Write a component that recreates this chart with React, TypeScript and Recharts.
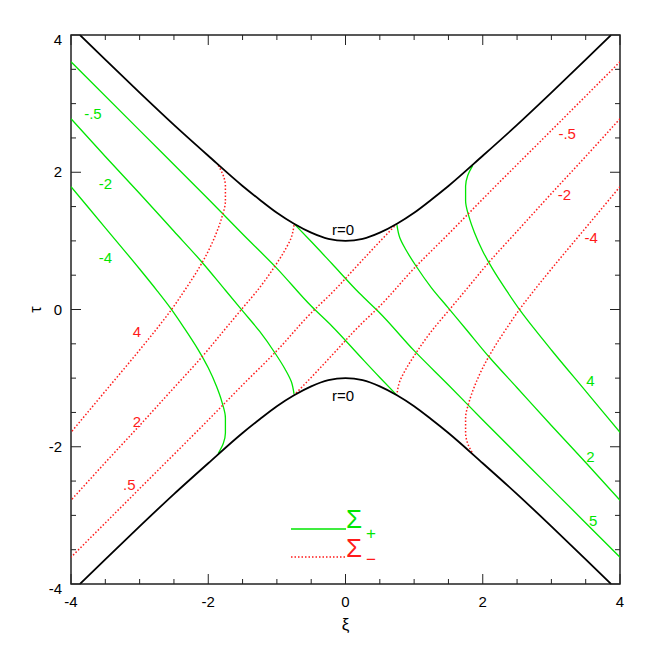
import React from "react";
import {
  LineChart,
  Line,
  XAxis,
  YAxis,
  ReferenceArea,
  ReferenceDot,
  Legend,
} from "recharts";

type Pt = [number, number];

// r = 0 boundaries (xi, tau)
const r0Upper: Pt[] = [
  [-3.87, 4.0], [-3.5, 3.64], [-3, 3.16], [-2.5, 2.69], [-2, 2.24], [-1.5, 1.8],
  [-1.25, 1.6], [-1, 1.41], [-0.75, 1.25], [-0.5, 1.12], [-0.25, 1.03], [0, 1.0],
  [0.25, 1.03], [0.5, 1.12], [0.75, 1.25], [1, 1.41], [1.25, 1.6], [1.5, 1.8],
  [2, 2.24], [2.5, 2.69], [3, 3.16], [3.5, 3.64], [3.87, 4.0],
];
const r0Lower: Pt[] = [
  [-3.87, -4.0], [-3.5, -3.64], [-3, -3.16], [-2.5, -2.69], [-2, -2.24], [-1.5, -1.8],
  [-1.25, -1.6], [-1, -1.41], [-0.75, -1.25], [-0.5, -1.12], [-0.25, -1.03], [0, -1.0],
  [0.25, -1.03], [0.5, -1.12], [0.75, -1.25], [1, -1.41], [1.25, -1.6], [1.5, -1.8],
  [2, -2.24], [2.5, -2.69], [3, -3.16], [3.5, -3.64], [3.87, -4.0],
];

// Sigma+ (green)
const plusM05: Pt[] = [
  [-4, 3.61], [-3, 2.61], [-2, 1.61], [-1.5, 1.1], [-1, 0.6], [-0.5, 0.05],
  [-0.2, -0.24], [0.2, -0.67], [0.5, -0.99], [0.75, -1.25],
];
const plusM2: Pt[] = [
  [-4, 2.78], [-3.5, 2.23], [-3, 1.69], [-2.5, 1.14], [-2.1, 0.7], [-1.75, 0.28],
  [-1.5, -0.02], [-1.25, -0.32], [-1.03, -0.63], [-0.88, -0.87], [-0.79, -1.05], [-0.75, -1.23],
];
const plusM4: Pt[] = [
  [-4, 1.79], [-3.5, 1.19], [-3, 0.59], [-2.75, 0.28], [-2.55, 0.02], [-2.35, -0.27],
  [-2.15, -0.58], [-2.0, -0.85], [-1.88, -1.12], [-1.8, -1.35], [-1.75, -1.58],
  [-1.75, -1.8], [-1.78, -1.95], [-1.855, -2.1],
];
const plusP05: Pt[] = [
  [-0.75, 1.25], [-0.5, 0.99], [-0.2, 0.67], [0.2, 0.24], [0.5, -0.05], [1, -0.6],
  [1.5, -1.1], [2, -1.61], [3, -2.61], [4, -3.61],
];
const plusP2: Pt[] = [
  [0.75, 1.23], [0.79, 1.05], [0.88, 0.87], [1.03, 0.63], [1.25, 0.32], [1.5, 0.02],
  [1.75, -0.28], [2.1, -0.7], [2.5, -1.14], [3, -1.69], [3.5, -2.23], [4, -2.78],
];
const plusP4: Pt[] = [
  [1.855, 2.1], [1.78, 1.95], [1.75, 1.8], [1.75, 1.58], [1.8, 1.35], [1.88, 1.12],
  [2.0, 0.85], [2.15, 0.58], [2.35, 0.27], [2.55, -0.02], [2.75, -0.28], [3, -0.59],
  [3.5, -1.19], [4, -1.79],
];

// Sigma- (red, dotted)
const minusM05: Pt[] = [
  [4, 3.61], [3, 2.61], [2, 1.61], [1.5, 1.1], [1, 0.6], [0.5, 0.05],
  [0.2, -0.24], [-0.2, -0.67], [-0.5, -0.99], [-0.75, -1.25],
];
const minusM2: Pt[] = [
  [4, 2.78], [3.5, 2.23], [3, 1.69], [2.5, 1.14], [2.1, 0.7], [1.75, 0.28],
  [1.5, -0.02], [1.25, -0.32], [1.03, -0.63], [0.88, -0.87], [0.79, -1.05], [0.75, -1.23],
];
const minusM4: Pt[] = [
  [4, 1.79], [3.5, 1.19], [3, 0.59], [2.75, 0.28], [2.55, 0.02], [2.35, -0.27],
  [2.15, -0.58], [2.0, -0.85], [1.88, -1.12], [1.8, -1.35], [1.75, -1.58],
  [1.75, -1.8], [1.78, -1.95], [1.855, -2.1],
];
const minusP05: Pt[] = [
  [0.75, 1.25], [0.5, 0.99], [0.2, 0.67], [-0.2, 0.24], [-0.5, -0.05], [-1, -0.6],
  [-1.5, -1.1], [-2, -1.61], [-3, -2.61], [-4, -3.61],
];
const minusP2: Pt[] = [
  [-0.75, 1.23], [-0.79, 1.05], [-0.88, 0.87], [-1.03, 0.63], [-1.25, 0.32], [-1.5, 0.02],
  [-1.75, -0.28], [-2.1, -0.7], [-2.5, -1.14], [-3, -1.69], [-3.5, -2.23], [-4, -2.78],
];
const minusP4: Pt[] = [
  [-1.855, 2.1], [-1.78, 1.95], [-1.75, 1.8], [-1.75, 1.58], [-1.8, 1.35], [-1.88, 1.12],
  [-2.0, 0.85], [-2.15, 0.58], [-2.35, 0.27], [-2.55, -0.02], [-2.75, -0.28], [-3, -0.59],
  [-3.5, -1.19], [-4, -1.79],
];

// curve labels (xi, tau, text)
const greenLabels: [number, number, string][] = [
  [-3.68, 2.85, "-.5"], [-3.5, 1.84, "-2"], [-3.5, 0.76, "-4"],
  [3.57, -1.04, "4"], [3.57, -2.14, "2"], [3.61, -3.08, "5"],
];
const redLabels: [number, number, string][] = [
  [3.23, 2.56, "-.5"], [3.19, 1.68, "-2"], [3.58, 1.04, "-4"],
  [-3.04, -0.33, "4"], [-3.04, -1.64, "2"], [-3.15, -2.55, ".5"],
];
const boundaryLabels: [number, number, string][] = [
  [-0.035, 1.16, "r=0"], [-0.035, -1.25, "r=0"],
];

const axisTicks = [-4, -3.5, -3, -2.5, -2, -1.5, -1, -0.5, 0, 0.5, 1, 1.5, 2, 2.5, 3, 3.5, 4];
const labelTicks = [-4, -2, 0, 2, 4];

const GREEN = "#00e600";
const RED = "#ff1a1a";
const FRAME = "#222";
const PLOT = 549;

const rows = (pts: Pt[]) => pts.map(([xi, tau]) => ({ xi, tau }));

function XTick({ x, y, payload }: any) {
  const v = payload.value;
  const major = labelTicks.includes(v);
  const len = major ? 10 : 5;
  return (
    <g>
      <line x1={x} x2={x} y1={y} y2={y - len} stroke={FRAME} />
      <line x1={x} x2={x} y1={y - PLOT} y2={y - PLOT + len} stroke={FRAME} />
      {major && (
        <text x={x} y={y + 23} textAnchor="middle" fontSize={15} fill="#000">
          {v}
        </text>
      )}
    </g>
  );
}

function YTick({ x, y, payload }: any) {
  const v = payload.value;
  const major = labelTicks.includes(v);
  const len = major ? 10 : 5;
  return (
    <g>
      <line x1={x} x2={x + len} y1={y} y2={y} stroke={FRAME} />
      <line x1={x + PLOT} x2={x + PLOT - len} y1={y} y2={y} stroke={FRAME} />
      {major && (
        <text x={x - 9} y={y + (Math.abs(v) === 4 ? 10 : 5)} textAnchor="end" fontSize={15} fill="#000">
          {v}
        </text>
      )}
    </g>
  );
}

function LegendBox() {
  return (
    <svg width={110} height={72} style={{ fontFamily: "Liberation Sans, Arial, sans-serif" }}>
      <line x1={9} x2={64} y1={31} y2={31} stroke={GREEN} strokeWidth={1.3} />
      <text x={64} y={30} fontSize={26} fill={GREEN}>Σ</text>
      <text x={84} y={41} fontSize={17} fill={GREEN}>+</text>
      <line x1={9} x2={64} y1={59} y2={59} stroke={RED} strokeWidth={1.5} strokeDasharray="1.5 2" />
      <text x={64} y={59} fontSize={26} fill={RED}>Σ</text>
      <text x={84} y={67} fontSize={17} fill={RED}>−</text>
    </svg>
  );
}

export default function App() {
  const greens = [plusM05, plusM2, plusM4, plusP05, plusP2, plusP4];
  const reds = [minusM05, minusM2, minusM4, minusP05, minusP2, minusP4];
  return (
    <div style={{ width: 646, height: 640, fontFamily: "Liberation Sans, Arial, sans-serif" }}>
      <LineChart width={646} height={640} margin={{ top: 27, right: 34, left: 0, bottom: 14 }}>
        <XAxis
          dataKey="xi"
          type="number"
          domain={[-4, 4]}
          ticks={axisTicks}
          interval={0}
          allowDataOverflow
          tickLine={false}
          axisLine={false}
          tickSize={0}
          tickMargin={0}
          height={50}
          tick={<XTick />}
          label={({ viewBox }: any) => (
            <text x={viewBox.x + viewBox.width / 2} y={viewBox.y + 46} textAnchor="middle" fontSize={17} fill="#000">
              ξ
            </text>
          )}
        />
        <YAxis
          dataKey="tau"
          type="number"
          domain={[-4, 4]}
          ticks={axisTicks}
          interval={0}
          allowDataOverflow
          tickLine={false}
          axisLine={false}
          tickSize={0}
          tickMargin={0}
          width={63}
          tick={<YTick />}
          label={({ viewBox }: any) => {
            const cx = viewBox.x + 27;
            const cy = viewBox.y + viewBox.height / 2;
            return (
              <text x={cx} y={cy} textAnchor="middle" dominantBaseline="central" fontSize={16} fill="#000" transform={`rotate(-90 ${cx} ${cy})`}>
                τ
              </text>
            );
          }}
        />
        <ReferenceArea x1={-4} x2={4} y1={-4} y2={4} fill="none" fillOpacity={0} stroke={FRAME} strokeWidth={1.5} />
        {greens.map((c, i) => (
          <Line
            key={`g${i}`}
            data={rows(c)}
            dataKey="tau"
            type="monotoneY"
            stroke={GREEN}
            strokeWidth={1.3}
            dot={false}
            activeDot={false}
            isAnimationActive={false}
          />
        ))}
        {reds.map((c, i) => (
          <Line
            key={`r${i}`}
            data={rows(c)}
            dataKey="tau"
            type="monotoneY"
            stroke={RED}
            strokeWidth={1.5}
            strokeDasharray="1.5 2"
            dot={false}
            activeDot={false}
            isAnimationActive={false}
          />
        ))}
        <Line data={rows(r0Upper)} dataKey="tau" type="monotone" stroke="#000" strokeWidth={1.8} dot={false} activeDot={false} isAnimationActive={false} />
        <Line data={rows(r0Lower)} dataKey="tau" type="monotone" stroke="#000" strokeWidth={1.8} dot={false} activeDot={false} isAnimationActive={false} />
        {greenLabels.map(([xi, tau, t], i) => (
          <ReferenceDot key={`gl${i}`} x={xi} y={tau} r={0} stroke="none" fill="none" label={{ value: t, position: "center", fill: GREEN, fontSize: 15 }} />
        ))}
        {redLabels.map(([xi, tau, t], i) => (
          <ReferenceDot key={`rl${i}`} x={xi} y={tau} r={0} stroke="none" fill="none" label={{ value: t, position: "center", fill: RED, fontSize: 15 }} />
        ))}
        {boundaryLabels.map(([xi, tau, t], i) => (
          <ReferenceDot key={`bl${i}`} x={xi} y={tau} r={0} stroke="none" fill="none" label={{ value: t, position: "center", fill: "#000", fontSize: 15 }} />
        ))}
        <Legend
          layout="vertical"
          align="center"
          verticalAlign="middle"
          wrapperStyle={{ left: 274, top: 490, width: 110, height: 72 }}
          content={() => <LegendBox />}
        />
      </LineChart>
    </div>
  );
}
